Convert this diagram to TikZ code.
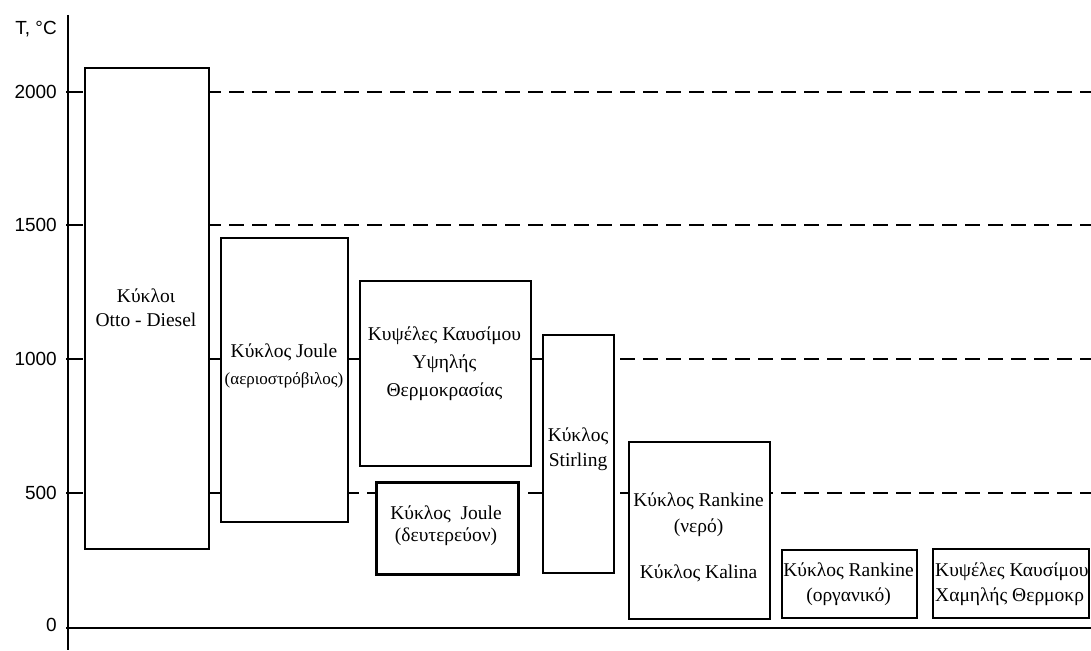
\documentclass[tikz,border=0pt]{standalone}
\usepackage{fontspec}
\setmainfont{Liberation Serif}
\newfontfamily\axfont{Liberation Sans}
\begin{document}
\begin{tikzpicture}[x=1pt,y=-1pt,
  box/.style={draw, line width=2pt, fill=white, inner sep=0pt, anchor=north west},
  lbl/.style={font=\fontsize{19.5}{26}\selectfont, align=center, inner sep=0pt},
  axlbl/.style={font=\axfont\fontsize{19}{22}\selectfont, inner sep=0pt, anchor=east},
  axline/.style={line width=1.4pt},
  dashline/.style={line width=1.4pt, dash pattern=on 15pt off 8pt}]
\useasboundingbox (0,0) rectangle (1091,650);
% dashed reference lines
\coordinate (d2000a) at (68,92);  \coordinate (d2000b) at (1091,92);
\coordinate (d1500a) at (68,225); \coordinate (d1500b) at (1091,225);
\coordinate (d1000a) at (68,359); \coordinate (d1000b) at (1091,359);
\coordinate (d500a)  at (68,493); \coordinate (d500b)  at (1091,493);
\draw[dashline] (d2000a) -- (d2000b);
\draw[dashline] (d1500a) -- (d1500b);
\draw[dashline] (d1000a) -- (d1000b);
\draw[dashline] (d500a) -- (d500b);
% axes
\coordinate (ytop) at (68,15); \coordinate (ybot) at (68,650);
\coordinate (xl) at (66,628); \coordinate (xr) at (1091,628);
\draw[axline] (ytop) -- (ybot);
\draw[axline] (xl) -- (xr);
\foreach \y in {92,225,359,493} \draw[axline] (66,\y) -- (80,\y);
\node[axlbl] (tlab) at (57,29) {T, °C};
\node[axlbl] (t2000) at (57,92) {2000};
\node[axlbl] (t1500) at (57,225) {1500};
\node[axlbl] (t1000) at (57,359) {1000};
\node[axlbl] (t500) at (57,493) {500};
\node[axlbl] (t0) at (57,625) {0};
% boxes
\node[box, minimum width=124pt, minimum height=481pt] (otto) at (84,67) {};
\node[box, minimum width=127pt, minimum height=284pt] (joule) at (220,237) {};
\node[box, minimum width=171pt, minimum height=185pt] (fch) at (359,280) {};
\node[box, line width=3pt, minimum width=142pt, minimum height=92pt] (joule2) at (375,481) {};
\node[box, minimum width=71pt, minimum height=238pt] (stir) at (542,334) {};
\node[box, minimum width=141pt, minimum height=177pt] (rankw) at (628,441) {};
\node[box, minimum width=135pt, minimum height=68pt] (ranko) at (781,549) {};
\node[box, minimum width=156pt, minimum height=69pt] (fcl) at (932,548) {};
% labels
\node[lbl, font=\fontsize{19.5}{24}\selectfont] (ottot) at (146,308) {Κύκλοι\\Otto - Diesel};
\node[lbl] (joulet) at (284,352) {Κύκλος Joule};
\node[lbl, font=\fontsize{17}{20}\selectfont] (joulet2) at (284,380) {(αεριοστρόβιλος)};
\node[lbl, font=\fontsize{19.5}{28}\selectfont] (fcht) at (444.5,364) {Κυψέλες Καυσίμου\\Υψηλής\\Θερμοκρασίας};
\node[lbl, font=\fontsize{19.5}{22}\selectfont] (joule2t) at (446,526) {Κύκλος\ \ Joule\\(δευτερεύον)};
\node[lbl, font=\fontsize{19.5}{25}\selectfont] (stirt) at (578,449.5) {Κύκλος\\Stirling};
\node[lbl] (rankwt) at (698.5,515) {Κύκλος Rankine\\(νερό)};
\node[lbl] (kalt) at (698.5,573) {Κύκλος Kalina};
\node[lbl, font=\fontsize{19.5}{25}\selectfont] (rankot) at (848.5,584.5) {Κύκλος Rankine\\(οργανικό)};
\node[lbl, font=\fontsize{19.5}{25}\selectfont, align=left, anchor=west] (fclt) at (935,584.5) {Κυψέλες Καυσίμου\\Χαμηλής Θερμοκρ};
\end{tikzpicture}
\end{document}
